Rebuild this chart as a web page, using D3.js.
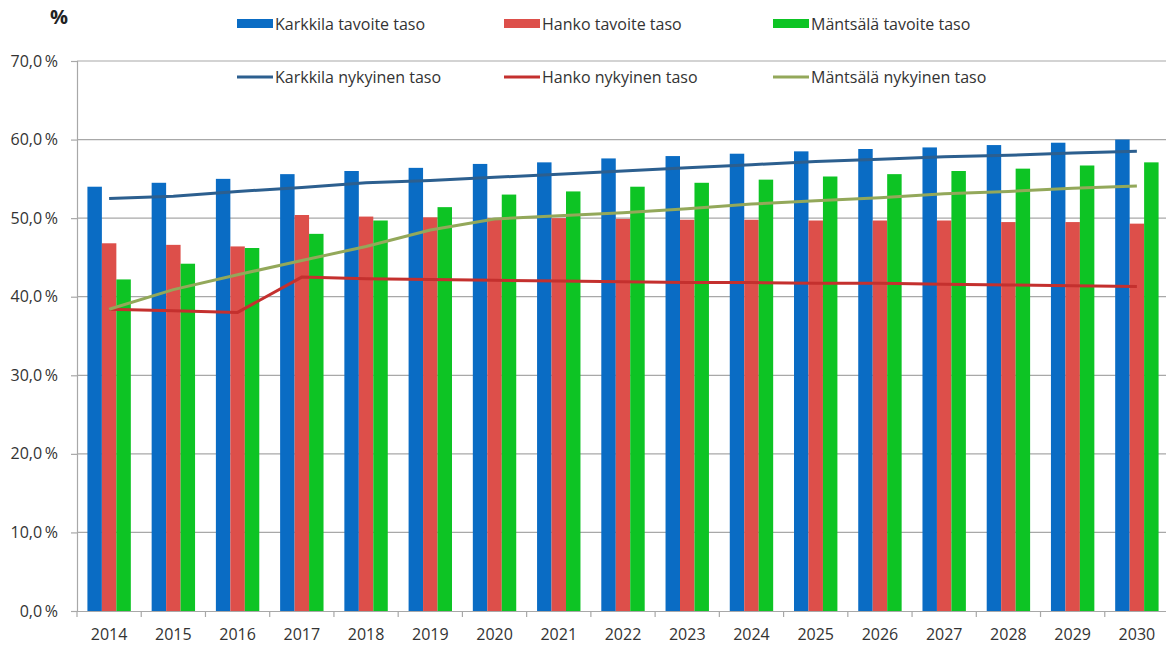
<!DOCTYPE html>
<html><head><meta charset="utf-8">
<script src="https://cdn.jsdelivr.net/npm/d3@7"></script>
<style>body{margin:0;background:#fff}svg{display:block;font-family:"Open Sans",sans-serif}</style>
</head><body>
<svg id="c" width="1166" height="649"></svg>
<script>
const years = ["2014","2015","2016","2017","2018","2019","2020","2021","2022","2023","2024","2025","2026","2027","2028","2029","2030"];
const karkkilaTavoite = [54.0,54.5,55.0,55.6,56.0,56.4,56.9,57.1,57.6,57.9,58.2,58.5,58.8,59.0,59.3,59.6,60.0];
const hankoTavoite = [46.8,46.6,46.4,50.4,50.2,50.1,50.0,50.0,49.9,49.8,49.8,49.7,49.7,49.7,49.5,49.5,49.3];
const mantsalaTavoite = [42.2,44.2,46.2,48.0,49.7,51.4,53.0,53.4,54.0,54.5,54.9,55.3,55.6,56.0,56.3,56.7,57.1];
const karkkilaNykyinen = [52.5,52.8,53.4,53.9,54.5,54.8,55.2,55.6,56.0,56.4,56.8,57.2,57.5,57.8,58.0,58.3,58.5];
const hankoNykyinen = [38.4,38.2,38.0,42.5,42.3,42.2,42.1,42.0,41.9,41.8,41.8,41.7,41.7,41.6,41.5,41.4,41.3];
const mantsalaNykyinen = [38.4,40.9,42.8,44.6,46.4,48.5,49.9,50.3,50.7,51.2,51.8,52.2,52.6,53.1,53.4,53.8,54.1];
const yTicks = [0,10,20,30,40,50,60,70];
const yTickLabels = ["0,0\u2009%","10,0\u2009%","20,0\u2009%","30,0\u2009%","40,0\u2009%","50,0\u2009%","60,0\u2009%","70,0\u2009%"];

const barSeries = [
  {name:"Karkkila tavoite taso", values:karkkilaTavoite, color:"#0A6CC4"},
  {name:"Hanko tavoite taso", values:hankoTavoite, color:"#DD4F4A"},
  {name:"Mäntsälä tavoite taso", values:mantsalaTavoite, color:"#0DC424"}
];
const lineSeries = [
  {name:"Karkkila nykyinen taso", values:karkkilaNykyinen, color:"#2C5F8F"},
  {name:"Hanko nykyinen taso", values:hankoNykyinen, color:"#C4302E"},
  {name:"Mäntsälä nykyinen taso", values:mantsalaNykyinen, color:"#93A85A"}
];

const svg = d3.select("#c");
const L = 77, R = 1169, T = 61, B = 611;
const x = d3.scaleBand().domain(years).range([L, R]).paddingInner(0).paddingOuter(0);
const y = d3.scaleLinear().domain([0,70]).range([B, T]);
const inner = d3.scaleBand().domain(d3.range(3)).range([0, x.bandwidth()]).paddingInner(0).paddingOuter(0.72);

// gridlines
svg.append("g").selectAll("line").data(yTicks.filter(d=>d>0)).join("line")
  .attr("x1", L).attr("x2", 1166).attr("y1", d=>y(d)).attr("y2", d=>y(d))
  .attr("stroke", "#a8a8a8").attr("stroke-width", 1.2);

// y axis
const yAxis = d3.axisLeft(y).tickValues(yTicks).tickSize(6).tickPadding(13)
  .tickFormat((d,i)=>yTickLabels[i]);
const gy = svg.append("g").attr("transform", `translate(${L},0)`).call(yAxis);
gy.select(".domain").attr("stroke", "#a8a8a8").attr("stroke-width", 1.2);
gy.selectAll(".tick line").attr("stroke", "#a8a8a8").attr("stroke-width", 1.2);
gy.selectAll("text").attr("font-size", 16).attr("fill", "#333").attr("font-family", "'Open Sans',sans-serif");

// bars
barSeries.forEach((s, si) => {
  svg.append("g").selectAll("rect").data(s.values).join("rect")
    .attr("x", (d,i)=>x(years[i]) + inner(si))
    .attr("width", inner.bandwidth())
    .attr("y", d=>y(d))
    .attr("height", d=>y(0)-y(d))
    .attr("fill", s.color);
});

// x axis
const xAxis = d3.axisBottom(x).tickSize(0).tickPadding(18);
const gx = svg.append("g").attr("transform", `translate(0,${B})`).call(xAxis);
gx.select(".domain").attr("stroke", "#a8a8a8").attr("stroke-width", 1.2);
gx.selectAll("text").attr("font-size", 16).attr("fill", "#333").attr("font-family", "'Open Sans',sans-serif");
gx.append("g").selectAll("line").data(years).join("line")
  .attr("x1", d=>x(d)).attr("x2", d=>x(d)).attr("y1", 0).attr("y2", 6)
  .attr("stroke", "#a8a8a8").attr("stroke-width", 1.2);

// lines
const line = d3.line().x((d,i)=>x(years[i]) + x.bandwidth()/2).y(d=>y(d));
lineSeries.forEach(s => {
  svg.append("path").datum(s.values).attr("d", line)
    .attr("fill", "none").attr("stroke", s.color).attr("stroke-width", 3);
});

// title "%"
svg.append("text").attr("x", 50).attr("y", 24).attr("font-size", 20).attr("font-weight", "bold")
  .attr("fill", "#222").text("%");

// legend
const legX = [237, 504, 773];
barSeries.forEach((s,i) => {
  svg.append("rect").attr("x", legX[i]).attr("y", 19).attr("width", 36).attr("height", 9).attr("fill", s.color);
  svg.append("text").attr("x", legX[i]+38).attr("y", 30).attr("font-size", 16).attr("fill", "#333").text(s.name);
});
lineSeries.forEach((s,i) => {
  svg.append("line").attr("x1", legX[i]).attr("x2", legX[i]+36).attr("y1", 77).attr("y2", 77)
    .attr("stroke", s.color).attr("stroke-width", 3);
  svg.append("text").attr("x", legX[i]+38).attr("y", 83).attr("font-size", 16).attr("fill", "#333").text(s.name);
});
</script>
</body></html>
